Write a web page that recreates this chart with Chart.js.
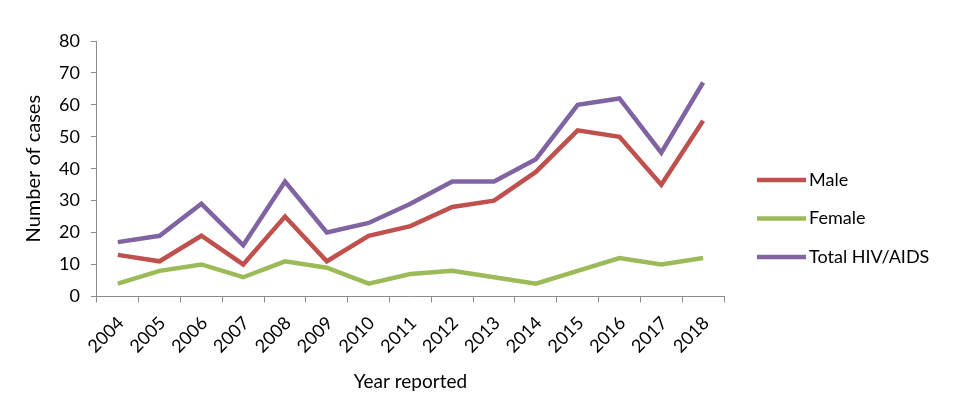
<!DOCTYPE html>
<html>
<head>
<meta charset="utf-8">
<script src="https://cdn.jsdelivr.net/npm/chart.js@4.4.0/dist/chart.umd.min.js"></script>
<style>
  html, body { margin: 0; padding: 0; background: #fff; }
  #wrap { width: 959px; height: 419px; }
</style>
</head>
<body>
<div id="wrap"><canvas id="hivChart" width="959" height="419"></canvas></div>
<script>
// Reported HIV/AIDS cases by year and sex
const years = ['2004', '2005', '2006', '2007', '2008', '2009', '2010', '2011', '2012', '2013', '2014', '2015', '2016', '2017', '2018'];
const male = [13, 11, 19, 10, 25, 11, 19, 22, 28, 30, 39, 52, 50, 35, 55];
const female = [4, 8, 10, 6, 11, 9, 4, 7, 8, 6, 4, 8, 12, 10, 12];
const total = [17, 19, 29, 16, 36, 20, 23, 29, 36, 36, 43, 60, 62, 45, 67];
const yTicks = [0, 10, 20, 30, 40, 50, 60, 70, 80];

const FONT = 'Lato, "Open Sans", sans-serif';
const axisGrey = '#8c8c8c';

// legend drawn at the right side, like the original
const sideLegend = {
    id: 'sideLegend',
    afterDraw(chart) {
        const ctx = chart.ctx;
        const x0 = 757, startY = 180, gap = 38.5;
        ctx.save();
        chart.data.datasets.forEach(function(ds, i) {
            const y = startY + i * gap;
            ctx.strokeStyle = ds.borderColor;
            ctx.lineWidth = 4.5;
            ctx.beginPath();
            ctx.moveTo(x0, y);
            ctx.lineTo(x0 + 49, y);
            ctx.stroke();
            ctx.fillStyle = '#000';
            ctx.font = '18px ' + FONT;
            ctx.textBaseline = 'middle';
            ctx.fillText(ds.label, x0 + 52, y);
        });
        ctx.restore();
    }
};

function lineSet(label, data, color) {
    return {
        label: label,
        data: data,
        borderColor: color,
        backgroundColor: color,
        borderWidth: 4.5,
        pointRadius: 0,
        tension: 0,
        fill: false
    };
}

new Chart(document.getElementById('hivChart').getContext('2d'), {
    type: 'line',
    data: {
        labels: years,
        datasets: [
            lineSet('Male', male, '#c0504d'),
            lineSet('Female', female, '#9bbb59'),
            lineSet('Total HIV/AIDS', total, '#8064a2')
        ]
    },
    options: {
        responsive: false,
        animation: false,
        layout: { padding: { top: 41, right: 235, left: 18, bottom: 22 } },
        plugins: {
            legend: { display: false },
            tooltip: { enabled: false }
        },
        scales: {
            x: {
                offset: true,
                grid: { offset: true, drawOnChartArea: false, drawTicks: true, tickLength: 6, color: axisGrey },
                border: { color: axisGrey, width: 1 },
                ticks: {
                    color: '#000',
                    font: { family: FONT, size: 18 },
                    maxRotation: 45,
                    minRotation: 45,
                    padding: 10,
                    labelOffset: 3
                },
                title: {
                    display: true,
                    text: 'Year reported',
                    color: '#000',
                    font: { family: FONT, size: 19 },
                    padding: { top: 3 }
                }
            },
            y: {
                min: 0,
                max: 80,
                afterBuildTicks(axis) {
                    axis.ticks = yTicks.map(function(v) { return { value: v }; });
                },
                grid: { drawOnChartArea: false, drawTicks: true, tickLength: 6, color: axisGrey },
                border: { color: axisGrey, width: 1 },
                ticks: {
                    color: '#000',
                    font: { family: FONT, size: 18 },
                    padding: 11
                },
                title: {
                    display: true,
                    text: 'Number of cases',
                    color: '#000',
                    font: { family: FONT, size: 20 },
                    padding: { bottom: 2 }
                }
            }
        }
    },
    plugins: [sideLegend]
});
</script>
</body>
</html>
